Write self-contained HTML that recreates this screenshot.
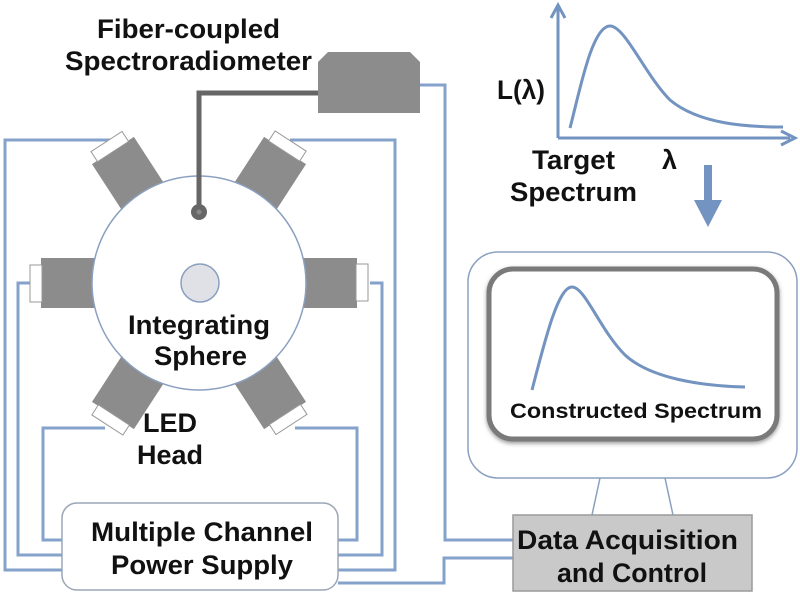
<!DOCTYPE html>
<html><head><meta charset="utf-8"><style>
html,body{margin:0;padding:0;background:#fff;}
svg{display:block;}
text{font-family:"Liberation Sans",sans-serif;font-weight:bold;fill:#111;}
</style></head><body>
<svg width="800" height="598" viewBox="0 0 800 598" xmlns="http://www.w3.org/2000/svg">
<defs>
<filter id="sh" x="-10%" y="-10%" width="120%" height="130%"><feDropShadow dx="0" dy="2" stdDeviation="2" flood-color="#555" flood-opacity="0.6"/></filter>
</defs>
<g fill="none" stroke="#85a2cb" stroke-width="3">
<polyline points="110,140 5,140 5,570 62,570"/>
<polyline points="30,283 18,283 18,555 62,555"/>
<polyline points="105,428 43,428 43,540 62,540"/>
<polyline points="290,140 395,140 395,570 338,570"/>
<polyline points="370,283 382,283 382,555 338,555"/>
<polyline points="295,428 357,428 357,540 338,540"/>
<polyline points="420,85 445,85 445,540 513,540"/>
<polyline points="338,583 444,583 444,558 513,558"/>
</g>
<g>
<g transform="rotate(0 199 283)"><rect x="41" y="258" width="70" height="50" fill="#8c8c8c"/><rect x="30" y="265" width="12" height="37" fill="#fff" stroke="#999" stroke-width="1"/></g>
<g transform="rotate(180 199 283)"><rect x="41" y="258" width="70" height="50" fill="#8c8c8c"/><rect x="30" y="265" width="12" height="37" fill="#fff" stroke="#999" stroke-width="1"/></g>
<g transform="rotate(57 199 283)"><rect x="41" y="258" width="70" height="50" fill="#8c8c8c"/><rect x="30" y="265" width="12" height="37" fill="#fff" stroke="#999" stroke-width="1"/></g>
<g transform="rotate(123 199 283)"><rect x="41" y="258" width="70" height="50" fill="#8c8c8c"/><rect x="30" y="265" width="12" height="37" fill="#fff" stroke="#999" stroke-width="1"/></g>
<g transform="rotate(-57 199 283)"><rect x="41" y="258" width="70" height="50" fill="#8c8c8c"/><rect x="30" y="265" width="12" height="37" fill="#fff" stroke="#999" stroke-width="1"/></g>
<g transform="rotate(-123 199 283)"><rect x="41" y="258" width="70" height="50" fill="#8c8c8c"/><rect x="30" y="265" width="12" height="37" fill="#fff" stroke="#999" stroke-width="1"/></g>
</g>
<circle cx="199" cy="283" r="107" fill="#fff" stroke="#8aa0c0" stroke-width="1.5"/>
<circle cx="200" cy="283" r="19" fill="#dfe1e6" stroke="#8aa0c0" stroke-width="1.5"/>
<polyline points="199,212 199,93 320,93" fill="none" stroke="#666" stroke-width="5"/>
<circle cx="199" cy="212" r="8" fill="#666"/>
<circle cx="199" cy="212" r="2.5" fill="#888"/>
<path d="M328,52 L410,52 L420,62 L420,113 L318,113 L318,62 Z" fill="#8c8c8c"/>
<g font-size="27">
<text x="97" y="38" textLength="183" lengthAdjust="spacingAndGlyphs">Fiber-coupled</text>
<text x="65" y="70" textLength="247" lengthAdjust="spacingAndGlyphs">Spectroradiometer</text>
<text x="128" y="334" textLength="142" lengthAdjust="spacingAndGlyphs">Integrating</text>
<text x="154" y="365" textLength="93" lengthAdjust="spacingAndGlyphs">Sphere</text>
<text x="143" y="432" textLength="54" lengthAdjust="spacingAndGlyphs">LED</text>
<text x="137" y="464" textLength="66" lengthAdjust="spacingAndGlyphs">Head</text>
</g>
<rect x="62" y="503" width="276" height="87" rx="15" fill="#fff" stroke="#9aa5b5" stroke-width="1.5"/>
<g font-size="27">
<text x="91" y="541" textLength="222" lengthAdjust="spacingAndGlyphs">Multiple Channel</text>
<text x="111" y="574" textLength="182" lengthAdjust="spacingAndGlyphs">Power Supply</text>
</g>
<line x1="600" y1="478" x2="592" y2="515" stroke="#8aa0c0" stroke-width="1.5"/>
<line x1="665" y1="478" x2="673" y2="515" stroke="#8aa0c0" stroke-width="1.5"/>
<rect x="468" y="252" width="329" height="226" rx="30" fill="#fff" stroke="#8aa0c0" stroke-width="1.5"/>
<rect x="489" y="269" width="288" height="170" rx="24" fill="#fff" stroke="#7a7a7a" stroke-width="5" filter="url(#sh)"/>
<path d="M532,390 C545,340 558,287 572,287 C585,287 600,330 625,355 C650,378 700,386 745,387" fill="none" stroke="#7393c0" stroke-width="3"/>
<text x="510" y="418" font-size="21" textLength="252" lengthAdjust="spacingAndGlyphs">Constructed Spectrum</text>
<rect x="513" y="515" width="239" height="76" fill="#c9c9c9" stroke="#9a9a9a" stroke-width="1.5"/>
<g font-size="27">
<text x="517" y="549" textLength="221" lengthAdjust="spacingAndGlyphs">Data Acquisition</text>
<text x="557" y="582" textLength="150" lengthAdjust="spacingAndGlyphs">and Control</text>
</g>
<g stroke="#7393c0" stroke-width="3" fill="none">
<polyline points="558,138 558,8"/>
<polyline points="551,18 558,5 565,18"/>
<polyline points="558,138 790,138"/>
<polyline points="781,131 795,138 781,145"/>
<path d="M570,128 C580,90 592,26 610,26 C625,26 645,75 670,100 C700,125 750,127 783,127"/>
</g>
<g font-size="27">
<text x="497" y="99" textLength="48" lengthAdjust="spacingAndGlyphs">L(λ)</text>
<text x="532" y="169" textLength="83" lengthAdjust="spacingAndGlyphs">Target</text>
<text x="662" y="169" textLength="15" lengthAdjust="spacingAndGlyphs">λ</text>
<text x="510" y="201" textLength="127" lengthAdjust="spacingAndGlyphs">Spectrum</text>
</g>
<rect x="704" y="165" width="8" height="40" fill="#7393c0"/>
<polygon points="694,200 722,200 708,227" fill="#7393c0"/>
</svg>
</body></html>
